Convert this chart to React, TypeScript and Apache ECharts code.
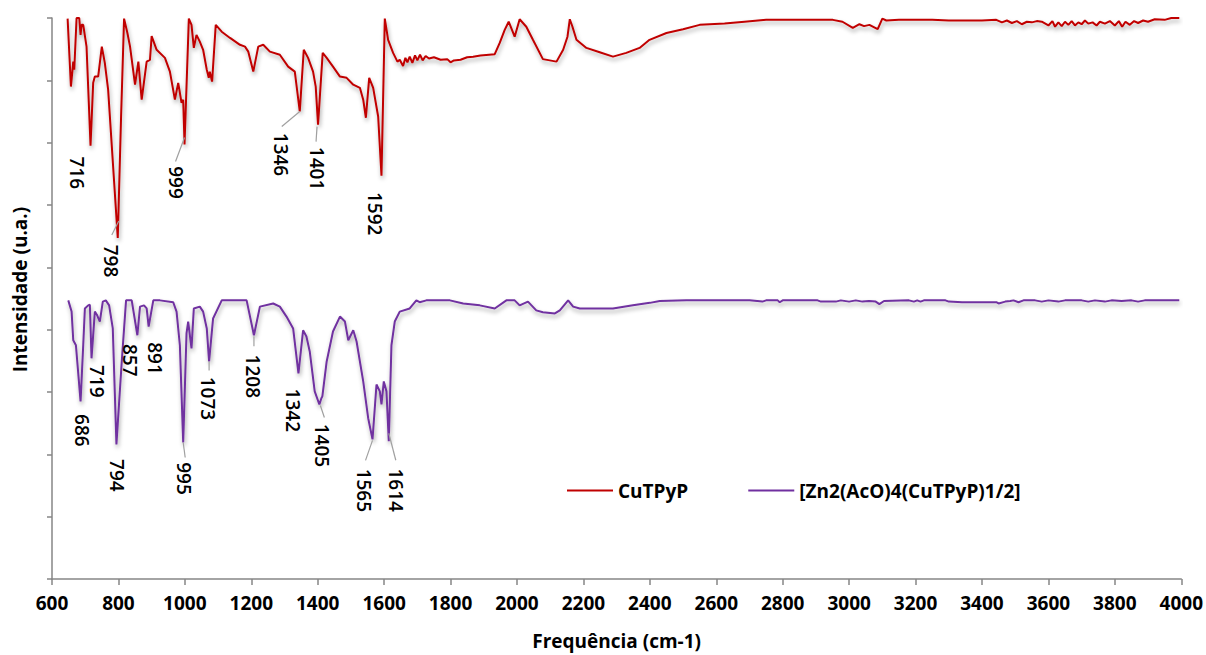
import { useEffect, useRef } from "react";
import * as echarts from "echarts";

// Wavenumber (cm-1) / intensity (u.a.) pairs
const cuTPyP: [number, number][] = [
  [647, 89.9], [657, 79.0], [664, 83.0], [667, 81.7], [674, 90.0], [682, 90.0], [686, 87.3],
  [689, 88.9], [694, 88.9], [704, 85.4], [716, 69.5], [724, 79.6], [729, 80.6], [739, 80.6],
  [750, 85.4], [759, 82.8], [769, 78.5], [798, 54.7], [808, 74.2], [817, 89.9], [827, 87.6],
  [835, 85.4], [850, 79.3], [860, 83.0], [870, 76.9], [885, 83.0], [895, 83.3], [900, 87.1],
  [915, 84.9], [940, 83.6], [955, 81.4], [970, 76.9], [980, 79.6], [990, 76.4], [995, 76.9],
  [999, 69.7], [1012, 89.9], [1020, 88.9], [1027, 85.2], [1035, 87.3], [1045, 86.2], [1055, 84.9],
  [1066, 81.7], [1072, 80.4], [1075, 81.4], [1082, 79.8], [1093, 88.9], [1111, 87.8], [1136, 86.8],
  [1166, 85.7], [1181, 85.4], [1191, 84.6], [1206, 81.4], [1221, 85.4], [1236, 85.7], [1256, 84.6],
  [1286, 84.1], [1311, 82.2], [1331, 81.4], [1346, 75.0], [1358, 84.9], [1371, 83.6], [1386, 81.4],
  [1394, 79.0], [1401, 72.9], [1415, 84.4], [1427, 83.6], [1446, 82.2], [1467, 80.6], [1487, 80.4],
  [1507, 79.3], [1527, 78.8], [1537, 76.9], [1545, 74.0], [1555, 80.4], [1567, 78.8], [1582, 74.2],
  [1592, 64.7], [1602, 89.9], [1612, 86.5], [1627, 84.4], [1640, 83.0], [1647, 83.3], [1657, 82.3],
  [1664, 83.6], [1670, 82.9], [1677, 83.8], [1685, 82.8], [1693, 84.0], [1700, 83.2], [1708, 84.1],
  [1716, 83.2], [1725, 83.9], [1735, 83.5], [1750, 83.7], [1770, 83.3], [1790, 83.4], [1800, 82.9],
  [1810, 83.2], [1830, 83.3], [1850, 83.7], [1868, 83.8], [1890, 84.0], [1933, 84.2], [1948, 86.0],
  [1963, 88.1], [1975, 89.4], [1993, 87.0], [2008, 89.8], [2028, 88.6], [2048, 86.5], [2078, 83.4],
  [2119, 83.0], [2139, 84.9], [2152, 87.0], [2159, 89.8], [2167, 88.6], [2179, 86.5], [2209, 85.2],
  [2249, 84.5], [2289, 83.8], [2329, 84.4], [2369, 85.2], [2399, 86.5], [2450, 87.6], [2500, 88.2],
  [2550, 88.9], [2625, 89.1], [2685, 89.4], [2750, 89.7], [2951, 89.7], [2980, 89.4], [3011, 88.4],
  [3031, 89.0], [3045, 88.7], [3061, 88.9], [3086, 88.2], [3100, 89.9], [3112, 89.6], [3150, 89.7],
  [3250, 89.7], [3300, 89.6], [3400, 89.6], [3443, 89.7], [3460, 89.3], [3475, 89.6], [3490, 89.2],
  [3505, 89.5], [3520, 89.0], [3535, 89.4], [3550, 89.3], [3565, 89.5], [3580, 89.4], [3600, 88.8],
  [3612, 89.5], [3620, 88.6], [3630, 89.3], [3640, 88.7], [3650, 89.4], [3660, 88.9], [3670, 89.5],
  [3680, 88.8], [3690, 89.3], [3700, 89.0], [3710, 89.6], [3720, 89.1], [3733, 89.3], [3745, 88.8],
  [3755, 89.4], [3770, 89.1], [3785, 89.5], [3800, 88.8], [3812, 89.5], [3822, 88.6], [3832, 89.4],
  [3845, 88.9], [3858, 89.5], [3870, 89.2], [3885, 89.6], [3900, 89.4], [3920, 89.8], [3950, 89.7],
  [3970, 90.0], [3994, 90.0],
];

const znComplex: [number, number][] = [
  [649, 44.7], [659, 42.9], [664, 38.3], [672, 37.5], [686, 28.5], [694, 37.5], [699, 43.4],
  [709, 43.9], [714, 44.0], [719, 35.4], [729, 42.9], [736, 42.3], [744, 41.3], [753, 44.5],
  [762, 44.7], [772, 43.9], [783, 40.2], [794, 21.6], [810, 34.9], [823, 44.7], [840, 44.7],
  [857, 39.1], [865, 43.7], [877, 43.9], [885, 43.4], [891, 40.5], [905, 44.7], [925, 44.7],
  [965, 44.4], [975, 42.9], [985, 37.5], [995, 21.9], [1005, 39.4], [1010, 41.3], [1020, 37.0],
  [1027, 43.4], [1045, 43.7], [1055, 42.9], [1066, 40.2], [1073, 34.9], [1085, 41.8], [1111, 44.7],
  [1186, 44.7], [1208, 39.1], [1226, 43.7], [1266, 44.2], [1286, 43.7], [1306, 42.1], [1326, 40.2],
  [1342, 33.0], [1356, 39.9], [1366, 38.9], [1376, 36.5], [1391, 30.1], [1405, 28.0], [1411, 29.0],
  [1414, 29.3], [1427, 34.9], [1446, 39.7], [1467, 42.1], [1482, 41.3], [1492, 38.3], [1507, 39.9],
  [1517, 38.1], [1537, 31.7], [1552, 25.8], [1565, 22.4], [1577, 31.2], [1587, 30.1], [1592, 28.0],
  [1599, 31.7], [1607, 30.1], [1614, 22.1], [1622, 37.5], [1632, 41.3], [1647, 42.9], [1677, 43.4],
  [1697, 44.7], [1707, 44.4], [1727, 44.7], [1798, 44.7], [1838, 44.2], [1888, 43.9], [1933, 43.4],
  [1968, 44.7], [1993, 44.7], [2008, 43.9], [2033, 44.5], [2058, 43.1], [2078, 42.8], [2114, 42.6],
  [2129, 43.1], [2154, 44.7], [2169, 43.7], [2189, 43.4], [2289, 43.4], [2349, 43.9], [2400, 44.3],
  [2430, 44.6], [2510, 44.7], [2700, 44.7], [2739, 44.5], [2750, 44.7], [2785, 44.7], [2791, 44.4],
  [2800, 44.7], [2905, 44.7], [2915, 44.5], [2960, 44.5], [2975, 44.7], [3000, 44.5], [3020, 44.7],
  [3040, 44.5], [3060, 44.6], [3080, 44.5], [3091, 44.1], [3105, 44.6], [3180, 44.7], [3195, 44.5],
  [3205, 44.7], [3215, 44.5], [3225, 44.7], [3290, 44.7], [3300, 44.5], [3340, 44.4], [3443, 44.4],
  [3450, 44.2], [3470, 44.5], [3485, 44.6], [3495, 44.7], [3510, 44.4], [3525, 44.7], [3560, 44.7],
  [3580, 44.5], [3600, 44.7], [3630, 44.5], [3650, 44.7], [3700, 44.7], [3720, 44.5], [3740, 44.7],
  [3770, 44.5], [3790, 44.7], [3820, 44.6], [3850, 44.7], [3870, 44.5], [3890, 44.7], [3994, 44.7],
];

const seriesNames = ["CuTPyP", "[Zn2(AcO)4(CuTPyP)1/2]"];
const cuPeaks = [716, 798, 999, 1346, 1401, 1592];
const znPeaks = [686, 719, 794, 857, 891, 995, 1073, 1208, 1342, 1405, 1565, 1614];

const xMin = 600;
const xMax = 4000;
const xStep = 200;
const yMin = 0;
const yMax = 90;
const yStep = 10;

// label placement (pixel offsets from the peak point) and leader lines
type Place = { d: [number, number]; leader?: [[number, number], [number, number]] };
const cuPlace: Record<number, Place> = {
  716: { d: [-14, 27] },
  798: { d: [-7, 23], leader: [[1, -17], [-6, -3]] },
  999: { d: [-9, 38], leader: [[0, -7], [-9, 17]] },
  1346: { d: [-19, 43], leader: [[0, 0], [-18, 15]] },
  1401: { d: [-1, 44], leader: [[-1, 2], [-2, 17]] },
  1592: { d: [-6, 38] },
};
const znPlace: Record<number, Place> = {
  686: { d: [1, 29] },
  719: { d: [5, 23] },
  794: { d: [1, 31] },
  857: { d: [-7, 25] },
  891: { d: [6, 32] },
  995: { d: [1, 36], leader: [[0, 0], [2, 15]] },
  1073: { d: [-1, 37], leader: [[0, 0], [0, 9]] },
  1208: { d: [-1, 41], leader: [[0, 1], [0, 11]] },
  1342: { d: [-5, 37] },
  1405: { d: [3, 41], leader: [[1, 1], [5, 13]] },
  1565: { d: [-9, 51], leader: [[0, 1], [-7, 21]] },
  1614: { d: [7, 49], leader: [[0, -8], [7, 19]] },
};

const FONT = '"Open Sans", "Liberation Sans", sans-serif';
const RED = "#C00000";
const PURPLE = "#7030A0";
const AXIS = "#868686";

export default function App() {
  const ref = useRef<HTMLDivElement>(null);
  useEffect(() => {
    if (!ref.current) return;
    const chart = echarts.init(ref.current, null, { renderer: "svg" });
    const shadow = {
      shadowColor: "rgba(0,0,0,0.35)",
      shadowBlur: 4,
      shadowOffsetX: 1,
      shadowOffsetY: 3,
    };
    chart.setOption({
      animation: false,
      backgroundColor: "#fff",
      grid: { left: 52, right: 24, top: 18, bottom: 73, containLabel: false },
      legend: {
        data: seriesNames.map((n) => ({ name: n, icon: "rect" })),
        left: 567,
        top: 481,
        padding: 0,
        itemWidth: 46,
        itemHeight: 2,
        itemGap: 60,
        textStyle: { fontFamily: FONT, fontSize: 19, fontWeight: "bold", color: "#000" },
      },
      xAxis: {
        type: "value",
        min: xMin,
        max: xMax,
        interval: xStep,
        name: "Frequência (cm-1)",
        nameLocation: "middle",
        nameGap: 52,
        nameTextStyle: { fontFamily: FONT, fontSize: 19, fontWeight: "bold", color: "#000" },
        axisLine: { show: true, lineStyle: { color: AXIS, width: 1.5 } },
        axisTick: { show: true, length: 6, lineStyle: { color: AXIS, width: 1.5 } },
        axisLabel: {
          margin: 14,
          fontFamily: FONT,
          fontSize: 19,
          fontWeight: "bold",
          color: "#000",
          formatter: (v: number) => String(v),
        },
        splitLine: { show: false },
      },
      yAxis: {
        type: "value",
        min: yMin,
        max: yMax,
        interval: yStep,
        name: "Intensidade (u.a.)",
        nameLocation: "middle",
        nameRotate: 90,
        nameGap: 23,
        nameTextStyle: {
          fontFamily: FONT,
          fontSize: 19,
          fontWeight: "bold",
          color: "#000",
          padding: [0, 0, 0, 18],
        },
        axisLine: { show: true, lineStyle: { color: AXIS, width: 1.5 } },
        axisTick: { show: true, length: 5, lineStyle: { color: AXIS, width: 1.5 } },
        axisLabel: { show: false },
        splitLine: { show: false },
      },
      series: [
        {
          name: seriesNames[0],
          type: "line",
          data: cuTPyP,
          symbol: "none",
          showSymbol: false,
          color: RED,
          lineStyle: { color: RED, width: 2, ...shadow },
        },
        {
          name: seriesNames[1],
          type: "line",
          data: znComplex,
          symbol: "none",
          showSymbol: false,
          color: PURPLE,
          lineStyle: { color: PURPLE, width: 2, ...shadow },
        },
      ],
    });

    const graphics: any[] = [];
    const addLabels = (data: [number, number][], peaks: number[], place: Record<number, Place>) => {
      peaks.forEach((p) => {
        const pt = data.find((d) => d[0] === p);
        if (!pt) return;
        const [px, py] = chart.convertToPixel({ gridIndex: 0 }, pt) as number[];
        const pl = place[p];
        if (pl.leader) {
          graphics.push({
            type: "line",
            shape: {
              x1: px + pl.leader[0][0],
              y1: py + pl.leader[0][1],
              x2: px + pl.leader[1][0],
              y2: py + pl.leader[1][1],
            },
            style: { stroke: "#A0A0A0", lineWidth: 1.2 },
            z: 10,
          });
        }
        graphics.push({
          type: "text",
          x: px + pl.d[0],
          y: py + pl.d[1],
          rotation: -Math.PI / 2,
          style: {
            text: String(p),
            fontFamily: FONT,
            fontSize: 19,
            fontWeight: 600,
            fill: "#000",
            align: "center",
            verticalAlign: "middle",
          },
          z: 10,
        });
      });
    };
    addLabels(cuTPyP, cuPeaks, cuPlace);
    addLabels(znComplex, znPeaks, znPlace);
    chart.setOption({ graphic: graphics });

    return () => chart.dispose();
  }, []);
  return (
    <div
      ref={ref}
      style={{ position: "fixed", left: 0, top: 0, width: 1206, height: 655, background: "#fff" }}
    />
  );
}
